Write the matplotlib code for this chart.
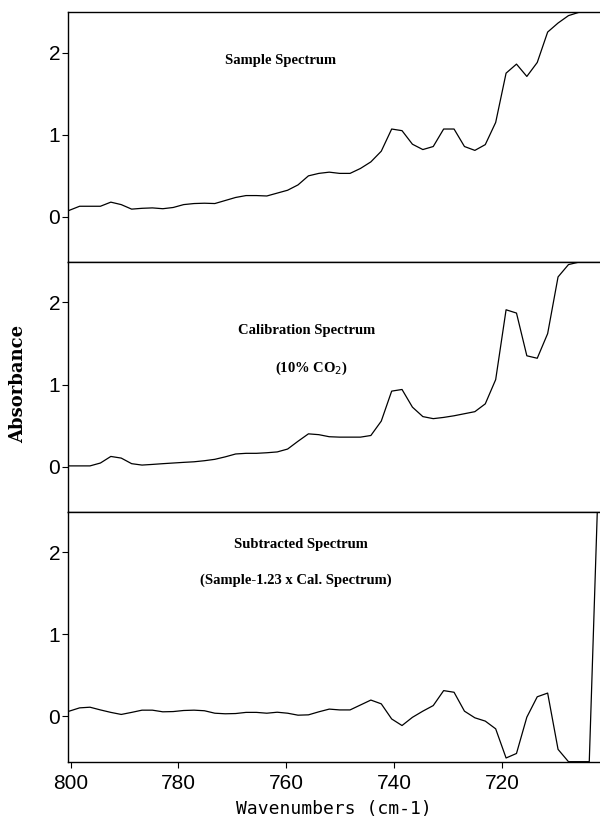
import numpy as np
import matplotlib
matplotlib.use('Agg')
import matplotlib.pyplot as plt

# wavenumbers (cm-1), one point every ~1.93 cm-1
wavenumbers = [800.25, 798.32, 796.39, 794.46, 792.53, 790.60, 788.67, 786.75, 784.82, 782.89,
               780.96, 779.03, 777.10, 775.17, 773.24, 771.31, 769.38, 767.45, 765.52, 763.60,
               761.67, 759.74, 757.81, 755.88, 753.95, 752.02, 750.09, 748.16, 746.23, 744.30,
               742.37, 740.44, 738.52, 736.59, 734.66, 732.73, 730.80, 728.87, 726.94, 725.01,
               723.08, 721.15, 719.22, 717.29, 715.37, 713.44, 711.51, 709.58, 707.65, 705.72,
               703.79, 701.86]

sample = [0.08, 0.13, 0.13, 0.13, 0.18, 0.15, 0.095, 0.105, 0.11, 0.10,
          0.115, 0.15, 0.163, 0.167, 0.163, 0.20, 0.237, 0.26, 0.26, 0.255,
          0.29, 0.325, 0.39, 0.50, 0.53, 0.545, 0.53, 0.53, 0.59, 0.67,
          0.80, 1.07, 1.05, 0.885, 0.82, 0.857, 1.07, 1.07, 0.857, 0.81,
          0.88, 1.15, 1.75, 1.86, 1.71, 1.88, 2.25, 2.36, 2.45, 2.49,
          2.49, 2.49]

calibration = [0.01, 0.01, 0.01, 0.045, 0.125, 0.105, 0.037, 0.02, 0.028, 0.037,
               0.045, 0.053, 0.06, 0.073, 0.09, 0.12, 0.155, 0.163, 0.163, 0.17,
               0.18, 0.215, 0.31, 0.40, 0.39, 0.365, 0.36, 0.36, 0.36, 0.38,
               0.555, 0.92, 0.94, 0.725, 0.61, 0.585, 0.60, 0.62, 0.645, 0.67,
               0.765, 1.06, 1.91, 1.87, 1.35, 1.32, 1.62, 2.31, 2.46, 2.49,
               2.49, 2.49]

subtracted = [0.065, 0.105, 0.113, 0.08, 0.05, 0.025, 0.05, 0.077, 0.077, 0.057,
              0.06, 0.073, 0.077, 0.07, 0.04, 0.033, 0.036, 0.05, 0.05, 0.04,
              0.052, 0.04, 0.016, 0.02, 0.057, 0.09, 0.08, 0.08, 0.14, 0.20,
              0.154, -0.03, -0.11, -0.01, 0.065, 0.133, 0.315, 0.295, 0.065, -0.016,
              -0.056, -0.15, -0.505, -0.45, -0.008, 0.24, 0.285, -0.40, -0.55, -0.55,
              -0.55, 3.4]

series = [sample, calibration, subtracted]
# (text, wavenumber, absorbance) for the labels inside each panel
labels = [
    [('Sample Spectrum', 761.0, 1.90)],
    [('Calibration Spectrum', 756.2, 1.66), ('(10% CO$_2$)', 755.3, 1.20)],
    [('Subtracted Spectrum', 757.2, 2.09), ('(Sample-1.23 x Cal. Spectrum)', 758.3, 1.66)],
]

tick_font = ['Liberation Sans', 'DejaVu Sans']
note_font = ['Liberation Serif', 'DejaVu Serif']

fig, axes = plt.subplots(3, 1, sharex=True, figsize=(6, 8.23), dpi=100)
fig.subplots_adjust(left=0.114, right=1.0, top=0.985, bottom=0.0745, hspace=0)

for ax, y, notes in zip(axes, series, labels):
    ax.plot(wavenumbers, y, color='black', lw=0.9)
    ax.set_ylim(-0.55, 2.49)
    ax.set_yticks([0, 1, 2])
    ax.spines['right'].set_visible(False)
    for s in ['left', 'top', 'bottom']:
        ax.spines[s].set_linewidth(1.0)
    ax.tick_params(axis='y', direction='out', length=4, width=0.8, pad=2, labelsize=15)
    ax.tick_params(axis='x', direction='out', length=4, width=0.8, pad=5, labelsize=15)
    for lab in ax.get_yticklabels():
        lab.set_family(tick_font)
    for txt, xw, yv in notes:
        ax.text(xw, yv, txt, ha='center', va='center', fontsize=10.5,
                fontweight='bold', family=note_font)

axes[-1].set_xlim(800.4, 701.8)
axes[-1].set_xticks([800, 780, 760, 740, 720])
for lab in axes[-1].get_xticklabels():
    lab.set_family(tick_font)
axes[-1].set_xlabel('Wavenumbers (cm-1)', family='DejaVu Sans Mono', fontsize=13, labelpad=5)

fig.text(18.5 / 600, 1 - 384 / 823, 'Absorbance', rotation=90, ha='center', va='center',
         fontsize=13, fontweight='bold', family='DejaVu Serif')

plt.savefig('out.png')
